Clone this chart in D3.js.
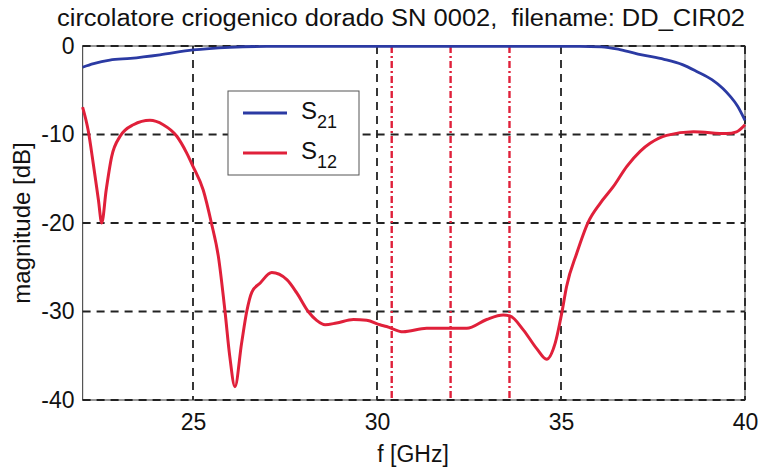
<!DOCTYPE html>
<html>
<head>
<meta charset="utf-8">
<script src="https://cdn.jsdelivr.net/npm/d3@7"></script>
<style>
  html, body { margin: 0; padding: 0; background: #fff; }
  svg { display: block; font-family: "Liberation Sans", Arial, sans-serif; }
</style>
</head>
<body>
<svg id="chart" width="763" height="471"></svg>
<script>
// S21 (blue)
const s21Freq = [22, 22.3, 22.74, 23.3, 24.1, 25, 26, 27, 28, 30, 32, 34, 35.5, 36.1, 36.6, 37.2, 37.8, 38.3, 38.7, 39.1, 39.4, 39.6, 39.8, 40];
const s21Mag  = [-2.4, -2.0, -1.6, -1.4, -1.0, -0.45, -0.15, -0.05, -0.05, -0.05, -0.05, -0.05, -0.05, -0.1, -0.4, -1.0, -1.5, -2.1, -2.9, -3.8, -4.8, -5.7, -6.8, -8.4];

// S12 (red)
const s12Freq = [22, 22.15, 22.29, 22.43, 22.52, 22.64, 22.79, 23.02, 23.38, 23.83, 24.19, 24.56, 24.83, 25.0,
  25.28, 25.5, 25.69, 25.87, 26.0, 26.14, 26.32, 26.46, 26.6, 26.82, 27.14, 27.55, 27.82, 28.13, 28.36, 28.59,
  28.9, 29.36, 29.72, 30.08, 30.26, 30.71, 31.35, 31.98, 32.44, 32.98, 33.43, 33.61, 33.98, 34.34, 34.61, 34.84,
  35.02, 35.15, 35.43, 35.74, 36.06, 36.42, 36.79, 37.15, 37.42, 37.87, 38.6, 39.5, 39.77, 40];
const s12Mag = [-6.9, -9.5, -13.3, -17.4, -20.0, -16.3, -12.5, -10.2, -8.9, -8.4, -8.9, -10.2, -12.1, -13.6,
  -16.3, -20.0, -23.8, -30.0, -35.1, -38.5, -33.6, -30.0, -27.8, -26.8, -25.6, -26.4, -27.9, -30.0, -31.0, -31.5,
  -31.3, -30.9, -31.0, -31.5, -31.7, -32.3, -31.9, -31.9, -31.9, -30.9, -30.4, -30.5, -32.1, -34.2, -35.4, -33.6,
  -30.2, -27.2, -23.4, -19.9, -17.8, -15.9, -13.6, -11.9, -11.0, -10.1, -9.7, -9.9, -9.7, -8.9];

// markers and ticks
const markerFreqs = [30.4, 32, 33.6];
const xTicks = [25, 30, 35, 40];
const yTicks = [0, -10, -20, -30, -40];

const titleText = "circolatore criogenico dorado SN 0002,  filename: DD_CIR02";

const svg = d3.select("#chart");
const plotLeft = 82.6, plotRight = 745, plotTop = 46, plotBottom = 400;

const x = d3.scaleLinear().domain([22, 40]).range([plotLeft, plotRight]);
const y = d3.scaleLinear().domain([-40, 0]).range([plotBottom, plotTop]);

// plot box
svg.append("rect")
  .attr("x", plotLeft).attr("y", plotTop)
  .attr("width", plotRight - plotLeft).attr("height", plotBottom - plotTop)
  .attr("fill", "#fff").attr("stroke", "#555").attr("stroke-width", 1.2);

// grid
const grid = svg.append("g").attr("stroke", "#222").attr("stroke-width", 1.8).attr("stroke-dasharray", "8,6");
grid.selectAll("line.gx").data(xTicks).join("line").attr("class", "gx")
  .attr("x1", d => x(d)).attr("x2", d => x(d)).attr("y1", plotTop).attr("y2", plotBottom);
grid.selectAll("line.gy").data(yTicks).join("line").attr("class", "gy")
  .attr("x1", plotLeft).attr("x2", plotRight).attr("y1", d => y(d)).attr("y2", d => y(d));

// axes (labels only, MATLAB style)
const xAxis = svg.append("g").attr("transform", `translate(0,${plotBottom})`)
  .call(d3.axisBottom(x).tickValues(xTicks).tickSize(0).tickPadding(14).tickFormat(d3.format("d")));
const yAxis = svg.append("g").attr("transform", `translate(${plotLeft},0)`)
  .call(d3.axisLeft(y).tickValues(yTicks).tickSize(0).tickPadding(8).tickFormat(d => d === 0 ? "0" : "-" + Math.abs(d)));
[xAxis, yAxis].forEach(a => {
  a.select(".domain").remove();
  a.selectAll("text").attr("font-size", 23).attr("fill", "#111").attr("font-family", "Liberation Sans, Arial, sans-serif");
});

// red marker lines
svg.append("g").selectAll("line").data(markerFreqs).join("line")
  .attr("x1", d => x(d)).attr("x2", d => x(d)).attr("y1", plotTop).attr("y2", plotBottom)
  .attr("stroke", "#e0203a").attr("stroke-width", 2.4).attr("stroke-dasharray", "7,3,2,3");

const line = d3.line().curve(d3.curveMonotoneX);

svg.append("path")
  .attr("d", line(s21Freq.map((f, i) => [x(f), y(s21Mag[i])])))
  .attr("fill", "none").attr("stroke", "#2b3aa3").attr("stroke-width", 2.8);

svg.append("path")
  .attr("d", line(s12Freq.map((f, i) => [x(f), y(s12Mag[i])])))
  .attr("fill", "none").attr("stroke", "#e0203a").attr("stroke-width", 3);

// legend
const lg = svg.append("g");
lg.append("rect").attr("x", 228).attr("y", 91).attr("width", 131).attr("height", 84)
  .attr("fill", "#fff").attr("stroke", "#555").attr("stroke-width", 1);
const legendItems = [{name: "S", sub: "21", color: "#2b3aa3", yy: 113}, {name: "S", sub: "12", color: "#e0203a", yy: 153}];
legendItems.forEach(it => {
  lg.append("line").attr("x1", 243).attr("x2", 287).attr("y1", it.yy).attr("y2", it.yy)
    .attr("stroke", it.color).attr("stroke-width", 3);
  const t = lg.append("text").attr("x", 301).attr("y", it.yy + 6).attr("font-size", 24).attr("fill", "#111");
  t.append("tspan").text(it.name);
  t.append("tspan").attr("dy", 9).attr("font-size", 18).text(it.sub);
});

// title and labels
svg.append("text").attr("x", 401).attr("y", 26).attr("text-anchor", "middle")
  .attr("font-size", 23).attr("fill", "#111")
  .style("white-space", "pre")
  .attr("textLength", 688).attr("lengthAdjust", "spacingAndGlyphs")
  .text(titleText);

svg.append("text").attr("x", 413).attr("y", 462).attr("text-anchor", "middle")
  .attr("font-size", 23).attr("fill", "#111").text("f [GHz]");

svg.append("text").attr("transform", `translate(30,${y(-20)}) rotate(-90)`)
  .attr("text-anchor", "middle").attr("font-size", 24).attr("fill", "#111").text("magnitude [dB]");
</script>
</body>
</html>
